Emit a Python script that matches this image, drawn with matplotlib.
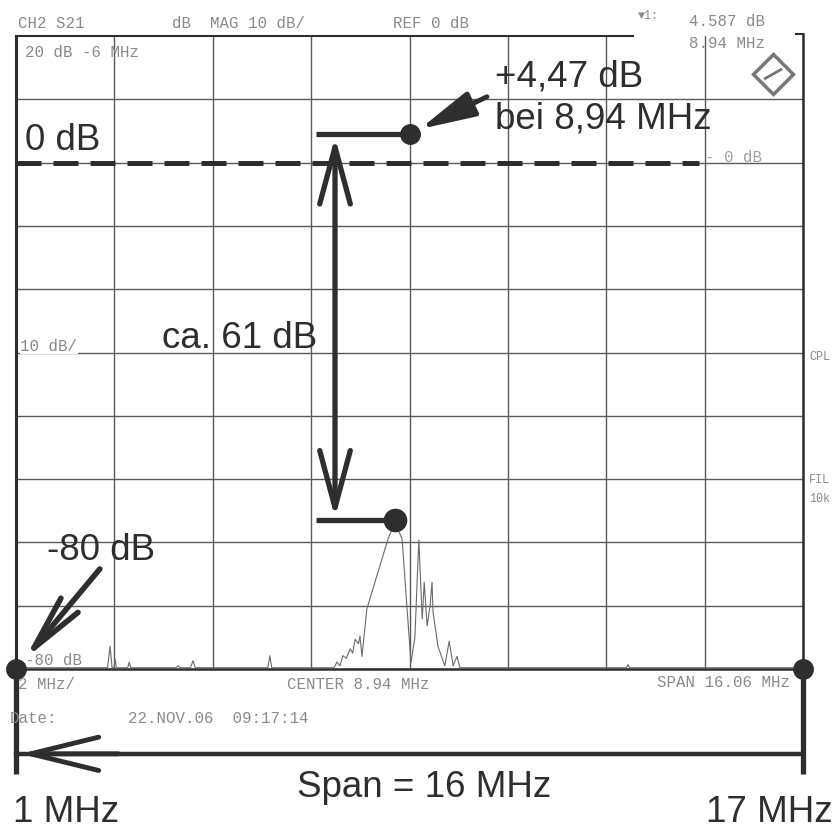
import matplotlib

matplotlib.use("Agg")
import matplotlib.pyplot as plt
import numpy as np

# analyzer settings
CENTER_MHZ = 8.94
SPAN_MHZ = 16.06
DIVS_X = 8
TOP_DB = 20
BOTTOM_DB = -80
DB_PER_DIV = 10

# measured trace (MHz, dB)
trace_mhz = [0.91, 2.78, 2.83, 2.87, 2.91, 2.93, 2.96, 3.19, 3.22, 3.25, 4.18, 4.22, 4.26,
             4.47, 4.52, 4.57, 6.05, 6.09, 6.13, 7.40, 7.46, 7.52, 7.58, 7.65, 7.73, 7.78,
             7.83, 7.90, 7.93, 7.97, 8.07, 8.50, 8.58, 8.64, 8.70, 8.79, 8.89, 8.97, 9.05,
             9.13, 9.20, 9.24, 9.30, 9.36, 9.40, 9.42, 9.52, 9.66, 9.75, 9.83, 9.91, 9.97,
             13.37, 13.40, 13.43, 16.97]
trace_db = [-79.8, -79.8, -76.4, -79.8, -79.8, -78.4, -79.8, -79.8, -78.9, -79.8, -79.8, -79.5, -79.8,
            -79.8, -78.7, -79.8, -79.8, -77.9, -79.8, -79.8, -78.9, -79.5, -77.9, -78.3, -76.8, -77.5,
            -75.3, -76.0, -74.8, -78.0, -70.5, -59.5, -58.0, -57.3, -57.8, -59.5, -70.5, -79.0, -75.0,
            -59.6, -72.1, -66.3, -73.2, -70.0, -66.3, -71.0, -76.4, -79.5, -75.6, -79.5, -78.0, -79.8,
            -79.8, -79.3, -79.8, -79.8]

# markers set by hand on the printout
peak_mhz, peak_db = 8.94, 4.47
low_mhz, low_db = 8.64, -56.5
span_from, span_to = 1.0, 17.0

INK = "#2e2e2e"
GRID = "#5a5a5a"
FAINT = "#8a8a8a"
SANS = ["Liberation Sans", "DejaVu Sans"]
MONO = ["Liberation Mono", "DejaVu Sans Mono"]
BIG = 26.5

start = CENTER_MHZ - SPAN_MHZ / 2
stop = CENTER_MHZ + SPAN_MHZ / 2

fig = plt.figure(figsize=(8.38, 8.29), dpi=100)
ax = fig.add_axes([16 / 838, 159 / 829, 787 / 838, 633 / 829])
ax.set_xlim(start, stop)
ax.set_ylim(BOTTOM_DB, TOP_DB)
ax.set_xticks(np.linspace(start, stop, DIVS_X + 1))
ax.set_yticks(np.arange(BOTTOM_DB, TOP_DB, DB_PER_DIV))
ax.tick_params(length=0, labelbottom=False, labelleft=False)
ax.grid(True, color=GRID, lw=1.0)
for s in ax.spines.values():
    s.set_visible(False)

# screen frame
ax.plot([start, start], [BOTTOM_DB, TOP_DB], color=INK, lw=2.2, clip_on=False)
ax.plot([stop, stop], [BOTTOM_DB, TOP_DB + 0.3], color=INK, lw=1.8, clip_on=False)
ax.plot([stop - 0.15, stop], [TOP_DB + 0.3, TOP_DB + 0.3], color=INK, lw=1.5, clip_on=False)
ax.plot([start, 13.5], [TOP_DB, TOP_DB], color=INK, lw=1.5, clip_on=False)
ax.plot([start, stop], [BOTTOM_DB, BOTTOM_DB], color=INK, lw=1.8, clip_on=False)

# trace
ax.plot(trace_mhz, trace_db, color="#6a6a6a", lw=0.8)


# instrument text
def mono(x, y, s, **kw):
    kw.setdefault("color", FAINT)
    kw.setdefault("fontsize", 11.3)
    ax.text(x, y, s, family=MONO, va="baseline", ha="left", clip_on=False, **kw)


mono(0.95, 21.4, "CH2 S21")
mono(4.09, 21.4, "dB  MAG 10 dB/")
mono(8.60, 21.4, "REF 0 dB")
mono(13.60, 22.8, "\u25bc1:", fontsize=8.5)
mono(14.65, 21.8, "4.587 dB")
mono(14.65, 18.2, "8.94 MHz")
mono(1.09, 16.9, "20 dB -6 MHz")
mono(1.0, -29.6, "10 dB/", bbox=dict(fc="white", ec="none", pad=0.5))
mono(1.10, -79.2, "-80 dB")
mono(0.95, -83.0, "2 MHz/")
mono(6.45, -83.0, "CENTER 8.94 MHz")
mono(13.99, -82.7, "SPAN 16.06 MHz")
mono(0.78, -88.3, "Date:")
mono(3.20, -88.3, "22.NOV.06  09:17:14")
mono(14.98, 0.2, "- 0 dB", color="#a0a0a0")
mono(17.10, -31.0, "CPL", fontsize=8.5)
mono(17.10, -50.4, "FIL", fontsize=8.5)
mono(17.10, -53.4, "10k", fontsize=8.5)
ax.plot([16.36], [14.0], marker="D", ms=20, mfc="white", mec="#777777", mew=2.5, clip_on=False)
ax.plot([16.2, 16.52], [13.3, 14.7], color="#777777", lw=2, clip_on=False)

# reference line 0 dB
ax.plot([start, 14.85], [0, 0], color=INK, lw=3.6, ls=(0, (5, 2.4)), solid_capstyle="butt")
ax.text(1.10, 2.1, "0 dB", family=SANS, fontsize=BIG, color=INK, va="baseline")

# peak marker and level difference
bar_left = 7.03
ax.plot([bar_left, peak_mhz], [peak_db, peak_db], color=INK, lw=3.8, solid_capstyle="butt")
ax.plot([bar_left, low_mhz], [low_db, low_db], color=INK, lw=3.8, solid_capstyle="butt")
ax.plot([peak_mhz], [peak_db], "o", color=INK, ms=14)
ax.plot([low_mhz], [low_db], "o", color=INK, ms=16)
ax.annotate("", xy=(7.42, peak_db - 0.4), xytext=(7.42, low_db + 0.4),
            arrowprops=dict(arrowstyle="<->,head_length=4.1,head_width=1.1", lw=3.8,
                            color=INK, shrinkA=0, shrinkB=0, mutation_scale=10))
ax.text(3.89, -29.1, f"ca. {peak_db - low_db:.0f} dB", family=SANS, fontsize=BIG,
        color=INK, va="baseline")

ax.annotate("", xy=(9.15, 5.3), xytext=(10.52, 10.4),
            arrowprops=dict(arrowstyle="-|>,head_length=3.4,head_width=0.8", lw=3.5,
                            color=INK, shrinkA=0, shrinkB=0, mutation_scale=10))
ax.text(10.68, 12.2, "+4,47 dB", family=SANS, fontsize=BIG, color=INK, va="baseline")
ax.text(10.68, 5.6, "bei 8,94 MHz", family=SANS, fontsize=BIG, color=INK, va="baseline")

# bottom level
ax.plot([start], [BOTTOM_DB], "o", color=INK, ms=14, clip_on=False)
ax.plot([stop], [BOTTOM_DB], "o", color=INK, ms=14, clip_on=False)
ax.annotate("", xy=(1.09, -78.4), xytext=(2.62, -64.2),
            arrowprops=dict(arrowstyle="->,head_length=4.0,head_width=0.8", lw=4,
                            color=INK, shrinkA=0, shrinkB=0, mutation_scale=10))
ax.text(1.54, -62.6, "-80 dB", family=SANS, fontsize=BIG, color=INK, va="baseline")

# span indicator below the screen
y_span = -93.4
ax.plot([start, start], [BOTTOM_DB, -96.6], color=INK, lw=3.8, clip_on=False, solid_capstyle="butt")
ax.plot([stop, stop], [BOTTOM_DB, -96.6], color=INK, lw=3.8, clip_on=False, solid_capstyle="butt")
ax.plot([start, stop], [y_span, y_span], color=INK, lw=3.2, clip_on=False)
ax.annotate("", xy=(span_from, y_span), xytext=(3.0, y_span), annotation_clip=False,
            arrowprops=dict(arrowstyle="->,head_length=4.9,head_width=1.2", lw=3.5,
                            color=INK, shrinkA=0, shrinkB=0, mutation_scale=10))
ax.text(6.64, -100.1, f"Span = {span_to - span_from:.0f} MHz", family=SANS, fontsize=BIG,
        color=INK, va="baseline")
ax.text(0.85, -104.0, f"{span_from:.0f} MHz", family=SANS, fontsize=BIG, color=INK, va="baseline")
ax.text(15.0, -104.0, f"{span_to:.0f} MHz", family=SANS, fontsize=BIG, color=INK, va="baseline")

fig.savefig("out.png", dpi=100)
